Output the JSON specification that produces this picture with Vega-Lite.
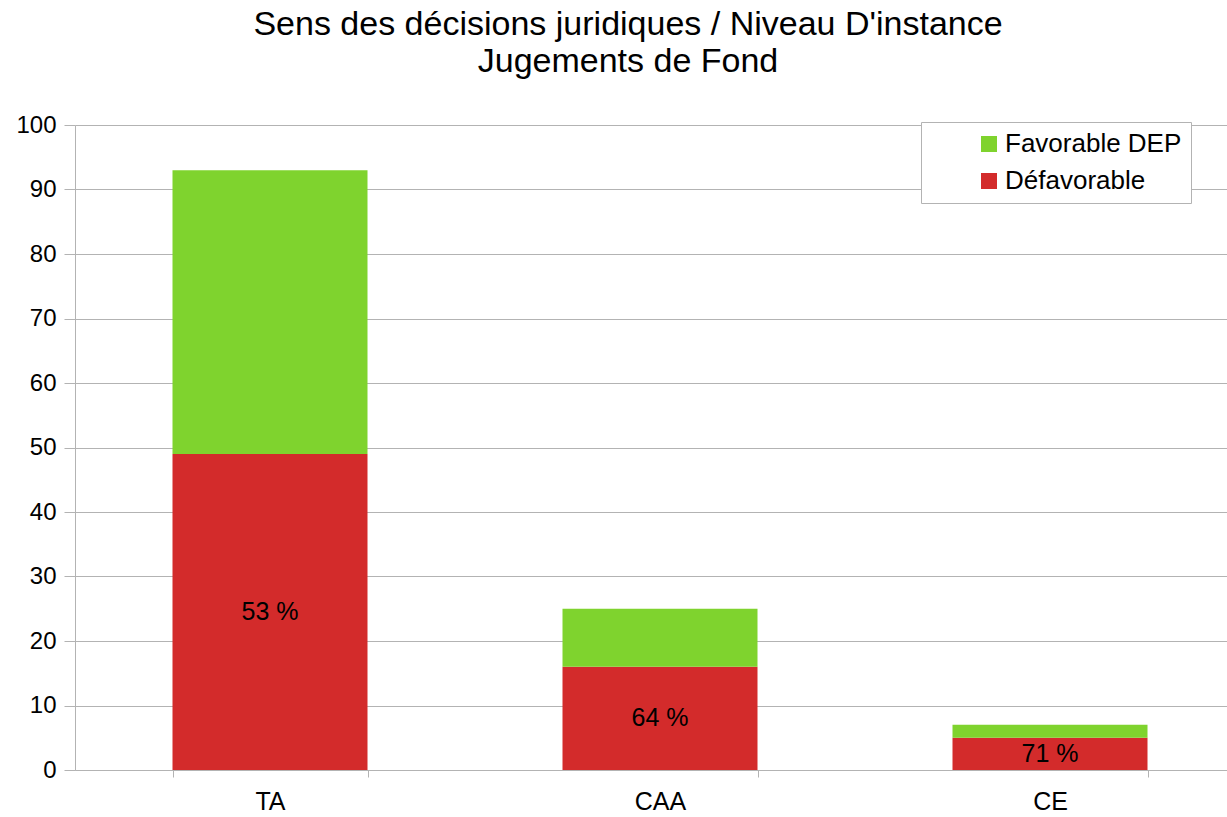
{
  "$schema": "https://vega.github.io/schema/vega-lite/v6.json",
  "autosize": "none",
  "width": 1170,
  "height": 645,
  "padding": {"left": 75, "top": 125, "right": 0, "bottom": 47},
  "background": "white",
  "config": {
    "font": "Liberation Sans",
    "view": {"stroke": null},
    "axis": {"labelFont": "Liberation Sans", "labelColor": "black", "domainColor": "#b3b3b3", "tickColor": "#b3b3b3", "gridColor": "#b3b3b3", "title": null}
  },
  "title": {
    "text": ["Sens des décisions juridiques / Niveau D'instance", "Jugements de Fond"],
    "font": "Liberation Sans",
    "fontSize": 34,
    "fontWeight": "normal",
    "color": "black",
    "lineHeight": 37,
    "anchor": "middle",
    "frame": "group",
    "dx": -32,
    "offset": 34
  },
  "data": {
    "values": [
      {"instance": "TA", "sens": "Défavorable", "nb": 49, "ordre": 1, "pct": "53 %"},
      {"instance": "TA", "sens": "Favorable DEP", "nb": 44, "ordre": 2, "pct": ""},
      {"instance": "CAA", "sens": "Défavorable", "nb": 16, "ordre": 1, "pct": "64 %"},
      {"instance": "CAA", "sens": "Favorable DEP", "nb": 9, "ordre": 2, "pct": ""},
      {"instance": "CE", "sens": "Défavorable", "nb": 5, "ordre": 1, "pct": "71 %"},
      {"instance": "CE", "sens": "Favorable DEP", "nb": 2, "ordre": 2, "pct": ""}
    ]
  },
  "encoding": {
    "x": {
      "field": "instance",
      "type": "nominal",
      "sort": ["TA", "CAA", "CE"],
      "scale": {"paddingInner": 0.5, "paddingOuter": 0.25},
      "axis": {"labelAngle": 0, "labelFontSize": 25, "tickBand": "extent", "tickSize": 7, "labelPadding": 12, "domain": true}
    }
  },
  "layer": [
    {
      "mark": {"type": "bar"},
      "encoding": {
        "y": {
          "field": "nb",
          "type": "quantitative",
          "stack": "zero",
          "scale": {"domain": [0, 100], "nice": false},
          "axis": {"values": [0, 10, 20, 30, 40, 50, 60, 70, 80, 90, 100], "labelFontSize": 24, "tickSize": 11, "labelPadding": 8, "grid": true, "domain": true}
        },
        "color": {
          "field": "sens",
          "type": "nominal",
          "scale": {"domain": ["Favorable DEP", "Défavorable"], "range": ["#7fd32e", "#d32b2b"]},
          "legend": {
            "title": null,
            "orient": "none",
            "legendX": 846,
            "legendY": -3,
            "padding": 9,
            "symbolType": "square",
            "symbolSize": 256,
            "symbolStrokeWidth": 0,
            "symbolOffset": 46,
            "labelFont": "Liberation Sans",
            "labelFontSize": 26,
            "labelColor": "black",
            "labelOffset": 3,
            "labelLimit": 400,
            "rowPadding": 11,
            "strokeColor": "#b3b3b3",
            "fillColor": "white"
          }
        },
        "order": {"field": "ordre", "type": "quantitative"}
      }
    },
    {
      "transform": [
        {"filter": "datum.sens === 'Défavorable'"},
        {"calculate": "datum.nb / 2", "as": "milieu"}
      ],
      "mark": {"type": "text", "fontSize": 25, "color": "black", "font": "Liberation Sans", "baseline": "middle"},
      "encoding": {
        "y": {"field": "milieu", "type": "quantitative"},
        "text": {"field": "pct"}
      }
    }
  ]
}
